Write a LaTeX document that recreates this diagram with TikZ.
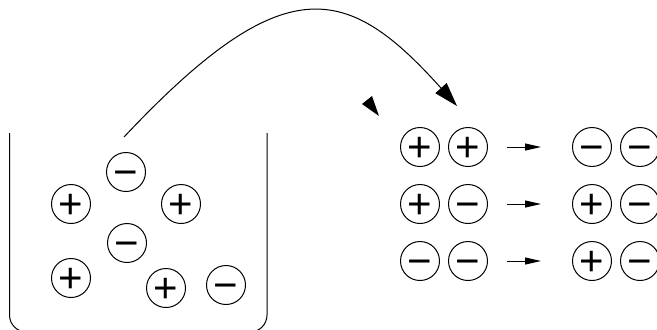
\documentclass[tikz,border=0pt]{standalone}
\usepackage{fontspec}
\setmainfont{Liberation Sans}
\usetikzlibrary{positioning}
\usetikzlibrary{calc}
\usetikzlibrary{arrows.meta}

\begin{document}
\begin{tikzpicture}[x=0.5pt,y=-0.5pt]
  % \draw (0,0) grid (657,329);

  \def\gap{48}
  \tikzset{ion node/.style={draw, circle, anchor=center, inner sep=0pt, minimum size=19.5pt, line width=0.5pt, font=\fontsize{21}{21}\selectfont, text height=14.7pt, text depth=0pt}}
  \tikzset{big tip/.style={-{Triangle[length=12pt,width=7.5pt]}, line width=0.5pt}}
  \tikzset{small tip/.style={-{Triangle[length=8pt,width=3.5pt]}, line width=0.5pt, shorten <=9.5pt, shorten >=15.5pt}}

  \useasboundingbox (0,0) rectangle (657,329);

  % beaker
  \begin{scope}
    \clip (0,0) rectangle (657,329);
    \draw[line width=0.5pt, rounded corners=8.5pt] (9.5,133) -- (9.5,332) -- (267,332) -- (267,133);
  \end{scope}

  % ions in the beaker
  \node[ion node] (m1) at (126,172) {−};
  \node[ion node] (a1) at (71,204) {+};
  \node[ion node] (a2) at (181,204) {+};
  \node[ion node] (m2) at (127,243) {−};
  \node[ion node] (a3) at (71,278) {+};
  \node[ion node] (a4) at (166,288) {+};
  \node[ion node] (m3) at (226,285) {−};

  % pairs
  \coordinate (origin) at (420,147);
  \node[ion node] (p1) at (origin) {+};
  \node[ion node] (p2) at ($(origin)+(\gap,0)$) {+};
  \node[ion node] (q1) at ($(origin)+(172,0)$) {−};
  \node[ion node] (q2) at ($(origin)+(172+\gap,0)$) {−};
  %
  \node[ion node] (p3) at ($(origin)+(0,57)$) {+};
  \node[ion node] (p4) at ($(origin)+(\gap,57)$) {−};
  \node[ion node] (q3) at ($(origin)+(172,57)$) {+};
  \node[ion node] (q4) at ($(origin)+(172+\gap,57)$) {−};
  %
  \node[ion node] (p5) at ($(origin)+(0,114)$) {−};
  \node[ion node] (p6) at ($(origin)+(\gap,114)$) {−};
  \node[ion node] (q5) at ($(origin)+(172,114)$) {+};
  \node[ion node] (q6) at ($(origin)+(172+\gap,114)$) {−};

  \draw[small tip] (p2) -- (q1);
  \draw[small tip] (p4) -- (q3);
  \draw[small tip] (p6) -- (q5);

  % big arc
  \coordinate (arcstart) at (124,137);
  \coordinate (arcend) at (457,106);
  \draw[big tip] (arcstart) .. controls (284,-33) and (347,-17) .. (arcend);

  % loose tip
  \coordinate (t1) at (362,104);
  \coordinate (t2) at (372,96);
  \coordinate (t3) at (379,116);
  \fill (t1) -- (t2) -- (t3) -- cycle;
\end{tikzpicture}
\end{document}
